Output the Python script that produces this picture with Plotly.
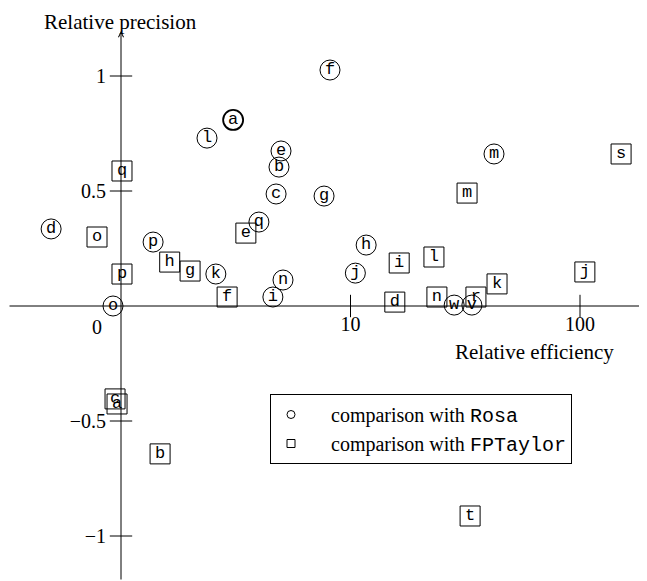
import numpy as np
import plotly.graph_objects as go

# Comparison with Rosa (circles)
rosa_labels = ["a", "l", "e", "b", "f", "c", "g", "m", "d", "q", "p", "k", "n", "i", "o", "h", "j", "w", "v"]
rosa_eff = [3.08, 2.37, 4.98, 4.88, 8.14, 4.74, 7.67, 42.2, 0.496, 3.99, 1.38, 2.59, 5.08, 4.59, 0.923, 11.7, 10.5, 28.3, 33.8]
rosa_prec = [0.809, 0.730, 0.674, 0.604, 1.026, 0.487, 0.478, 0.661, 0.335, 0.365, 0.278, 0.139, 0.113, 0.039, 0.0, 0.265, 0.143, 0.004, 0.004]

# Comparison with FPTaylor (squares)
fpt_labels = ["q", "o", "p", "h", "g", "f", "e", "m", "s", "i", "l", "j", "k", "d", "n", "r", "c", "a", "b", "t"]
fpt_eff = [1.01, 0.786, 1.01, 1.63, 2.0, 2.90, 3.50, 32.2, 151, 16.3, 23.1, 105, 43.5, 15.6, 23.8, 35.2, 0.942, 0.961, 1.48, 33.2]
fpt_prec = [0.587, 0.300, 0.139, 0.191, 0.152, 0.039, 0.317, 0.491, 0.661, 0.187, 0.213, 0.148, 0.096, 0.017, 0.039, 0.039, -0.404, -0.426, -0.643, -0.913]

y_ticks = [-1, -0.5, 0.5, 1]
x_ticks = [10, 100]
x_tick_text = ["10", "100"]

SERIF = "Liberation Serif"
MONO = "Liberation Mono"

# page body has an 8px margin: work in figure pixels = screen pixels - 8
OFF = 8
W, H = 647 - OFF, 581 - OFF
ox, oy = 121 - OFF, 306 - OFF     # origin in figure pixels
dec, unit = 229.5, 230.0          # px per decade / per unit


def px(sx):
    return (sx - OFF) / W


def py(sy):
    return 1 - (sy - OFF) / H


xr = [(0 - ox) / dec, (W - ox) / dec]
yr = [(oy - H) / unit, oy / unit]

fig = go.Figure()

fig.add_trace(go.Scatter(
    x=fpt_eff, y=fpt_prec, mode="markers+text", text=fpt_labels,
    textposition="middle center",
    textfont=dict(family=MONO, size=17, color="black"),
    marker=dict(symbol="square-open", size=20, color="black", line=dict(width=1, color="black")),
    showlegend=False, hoverinfo="skip"))

fig.add_trace(go.Scatter(
    x=rosa_eff, y=rosa_prec, mode="markers+text", text=rosa_labels,
    textposition="middle center",
    textfont=dict(family=MONO, size=17, color="black"),
    marker=dict(symbol="circle-open", size=20, color="black",
                line=dict(width=[1.8 if l == "a" else 1 for l in rosa_labels], color="black")),
    showlegend=False, hoverinfo="skip"))

# tick marks crossing the axes
fig.add_trace(go.Scatter(x=[1] * len(y_ticks), y=y_ticks, mode="markers",
                         marker=dict(symbol="line-ew", size=16, line=dict(width=1, color="black")),
                         showlegend=False, hoverinfo="skip"))
fig.add_trace(go.Scatter(x=x_ticks, y=[0] * len(x_ticks), mode="markers",
                         marker=dict(symbol="line-ns", size=16, line=dict(width=1, color="black")),
                         showlegend=False, hoverinfo="skip"))

NB = "\u00a0" * 4
# legend entries
fig.add_trace(go.Scatter(x=[None], y=[None], mode="markers",
                         name=NB + "comparison with <span style='font-family:Liberation Mono'>Rosa</span>",
                         marker=dict(symbol="circle-open", size=8, color="black", line=dict(width=1))))
fig.add_trace(go.Scatter(x=[None], y=[None], mode="markers",
                         name=NB + "comparison with <span style='font-family:Liberation Mono'>FPTaylor</span>",
                         marker=dict(symbol="square-open", size=8, color="black", line=dict(width=1))))

annotations = [
    # y axis with arrow
    dict(x=0, y=(oy - (31 - OFF)) / unit, ax=0, ay=yr[0], xref="x", yref="y", axref="x", ayref="y",
         showarrow=True, arrowhead=5, arrowsize=1, arrowwidth=1, arrowcolor="black", text=""),
    # x axis with arrow
    dict(x=(W - 1 - ox) / dec, y=0, ax=(0 - ox) / dec, ay=0, xref="x", yref="y", axref="x", ayref="y",
         showarrow=True, arrowhead=5, arrowsize=1, arrowwidth=1, arrowcolor="black", text=""),
    dict(text="Relative precision", x=px(120), y=1, xref="paper", yref="paper",
         xanchor="center", yanchor="top",
         showarrow=False, font=dict(family=SERIF, size=21, color="black")),
    dict(text="Relative efficiency", x=px(534), y=py(352), xref="paper", yref="paper",
         xanchor="center", yanchor="middle",
         showarrow=False, font=dict(family=SERIF, size=21, color="black")),
    dict(text="0", x=px(97), y=py(327), xref="paper", yref="paper",
         xanchor="center", yanchor="middle",
         showarrow=False, font=dict(family=SERIF, size=20, color="black")),
]

fig.update_layout(
    width=W, height=H,
    margin=dict(l=0, r=0, t=0, b=0),
    paper_bgcolor="white", plot_bgcolor="white",
    annotations=annotations,
    xaxis=dict(type="log", range=xr, showgrid=False, zeroline=False, showline=False,
               tickvals=x_ticks, ticktext=x_tick_text, ticks="",
               anchor="free", position=py(306),
               tickfont=dict(family=SERIF, size=20, color="black"), ticklabelstandoff=4),
    yaxis=dict(range=yr, showgrid=False, zeroline=False, showline=False,
               tickvals=y_ticks, ticks="", anchor="free", position=px(121),
               tickfont=dict(family=SERIF, size=20, color="black"), ticklabelstandoff=15),
    legend=dict(x=px(270), y=py(394), xanchor="left", yanchor="top",
                bordercolor="black", borderwidth=1, bgcolor="white",
                font=dict(family=SERIF, size=20, color="black"),
                itemwidth=30, tracegroupgap=0),
    showlegend=True,
)

fig.write_html("out.html")
